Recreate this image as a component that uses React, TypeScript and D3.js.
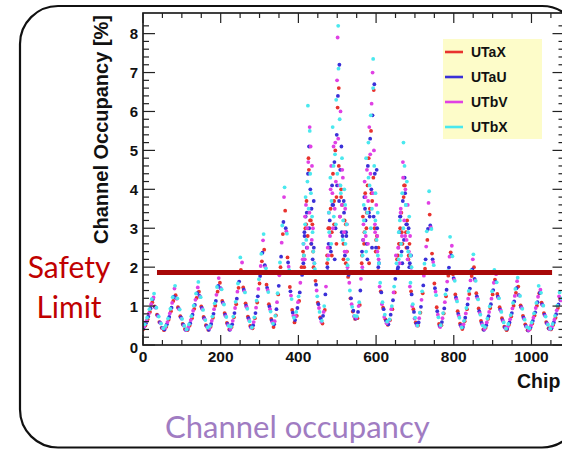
import { useEffect, useRef } from "react"
import * as d3 from "d3"

// occupancy [%], one value every 6 chips per layer;
// each layer is read at its own chip offset (see chipShift)
const utaX = [
  0.40, 0.50, 0.66, 0.85, 1.10, 0.99, 0.78, 0.59, 0.44, 0.38,
  0.47, 0.65, 0.87, 1.13, 1.28, 0.97, 0.74, 0.54, 0.41, 0.38,
  0.50, 0.69, 0.93, 1.21, 1.37, 0.99, 0.72, 0.51, 0.39, 0.47,
  0.70, 1.01, 1.37, 1.60, 1.13, 0.82, 0.57, 0.40, 0.46, 0.71,
  1.05, 1.47, 1.93, 1.48, 1.07, 0.73, 0.49, 0.43, 0.69, 1.09,
  1.58, 2.15, 2.45, 1.55, 1.05, 0.67, 0.46, 0.76, 1.30, 2.00,
  2.85, 3.45, 2.25, 1.49, 0.90, 0.58, 0.75, 1.13, 2.00, 2.30,
  3.10, 4.80, 3.20, 2.40, 1.65, 1.09, 0.71, 0.55, 0.90, 2.10,
  3.00, 2.30, 3.70, 2.60, 6.60, 3.80, 2.20, 3.10, 1.75, 1.20,
  0.86, 0.67, 0.69, 1.03, 2.30, 2.90, 3.40, 2.10, 3.90, 6.55,
  2.70, 2.50, 1.38, 0.96, 0.66, 0.52, 0.64, 0.92, 1.35, 2.20,
  2.60, 2.90, 4.10, 2.50, 2.30, 1.38, 0.92, 0.58, 0.50, 0.83,
  1.33, 1.96, 2.70, 3.35, 2.35, 1.58, 0.97, 0.54, 0.51, 0.81,
  1.25, 1.78, 2.38, 1.82, 1.30, 0.87, 0.55, 0.41, 0.61, 0.92,
  1.31, 1.77, 2.00, 1.33, 0.94, 0.62, 0.40, 0.44, 0.67, 0.95,
  1.30, 1.68, 1.31, 0.97, 0.69, 0.47, 0.38, 0.52, 0.73, 1.01,
  1.34, 1.50, 1.02, 0.75, 0.53, 0.38, 0.41, 0.55, 0.76, 1.01,
  1.33, 1.09, 0.82, 0.59, 0.43, 0.40, 0.52, 0.70, 0.95, 1.17,
]

const utaU = [
  0.44, 0.56, 0.73, 0.94, 1.18, 0.97, 0.76, 0.58, 0.44, 0.40,
  0.53, 0.72, 0.96, 1.24, 1.20, 0.94, 0.71, 0.52, 0.39, 0.41,
  0.56, 0.78, 1.03, 1.33, 1.26, 0.95, 0.69, 0.49, 0.39, 0.54,
  0.80, 1.13, 1.52, 1.46, 1.09, 0.78, 0.54, 0.39, 0.53, 0.82,
  1.19, 1.63, 1.88, 1.42, 1.01, 0.69, 0.46, 0.51, 0.82, 1.25,
  1.77, 2.37, 2.05, 1.47, 0.99, 0.63, 0.53, 0.92, 1.52, 2.27,
  3.16, 3.00, 2.12, 1.38, 0.83, 0.64, 0.95, 1.35, 1.80, 2.90,
  3.40, 5.10, 2.60, 3.70, 1.55, 1.05, 0.68, 0.75, 1.30, 1.90,
  2.50, 3.60, 2.20, 4.10, 7.20, 2.90, 3.40, 2.80, 1.80, 1.20,
  0.88, 0.68, 0.85, 1.40, 1.90, 3.50, 2.20, 3.30, 2.50, 6.70,
  4.50, 2.10, 1.35, 0.92, 0.62, 0.53, 0.78, 1.15, 1.70, 1.95,
  3.30, 2.10, 4.30, 3.10, 2.00, 1.30, 0.85, 0.55, 0.58, 0.98,
  1.53, 2.20, 2.98, 3.07, 2.20, 1.46, 0.87, 0.49, 0.59, 0.94,
  1.42, 1.99, 2.30, 1.72, 1.22, 0.80, 0.51, 0.46, 0.70, 1.04,
  1.45, 1.94, 1.70, 1.25, 0.87, 0.57, 0.39, 0.51, 0.74, 1.05,
  1.41, 1.62, 1.24, 0.91, 0.64, 0.45, 0.42, 0.58, 0.82, 1.12,
  1.46, 1.28, 0.97, 0.70, 0.49, 0.37, 0.45, 0.62, 0.84, 1.10,
  1.34, 1.04, 0.78, 0.56, 0.42, 0.43, 0.58, 0.79, 1.04, 1.15,
]

const utbV = [
  0.48, 0.62, 0.81, 1.05, 1.22, 0.96, 0.74, 0.56, 0.43, 0.44,
  0.59, 0.81, 1.08, 1.45, 1.19, 0.92, 0.68, 0.50, 0.39, 0.46,
  0.64, 0.88, 1.16, 1.48, 1.24, 0.92, 0.66, 0.46, 0.43, 0.62,
  0.92, 1.29, 1.72, 1.44, 1.06, 0.74, 0.51, 0.41, 0.62, 0.95,
  1.37, 1.86, 2.12, 1.38, 0.97, 0.64, 0.44, 0.59, 0.96, 1.44,
  2.03, 2.69, 2.00, 1.41, 0.92, 0.58, 0.61, 1.10, 1.79, 2.63,
  3.80, 2.92, 2.01, 1.27, 0.75, 0.74, 1.10, 1.60, 2.20, 3.30,
  2.50, 5.60, 4.60, 2.10, 1.40, 0.95, 0.60, 0.85, 1.50, 2.30,
  4.00, 3.00, 5.20, 7.90, 3.30, 4.50, 2.40, 3.10, 1.60, 1.05,
  0.74, 0.70, 1.00, 1.70, 2.70, 3.80, 2.60, 4.90, 7.00, 3.10,
  2.80, 1.50, 1.05, 0.72, 0.56, 0.62, 0.92, 1.35, 2.30, 2.50,
  3.40, 4.70, 2.80, 2.20, 1.50, 1.00, 0.68, 0.50, 0.69, 1.16,
  1.78, 2.53, 3.65, 3.02, 2.13, 1.37, 0.78, 0.46, 0.69, 1.10,
  1.63, 2.27, 2.55, 1.68, 1.17, 0.75, 0.47, 0.53, 0.81, 1.19,
  1.66, 2.20, 1.66, 1.20, 0.82, 0.53, 0.41, 0.58, 0.85, 1.19,
  1.60, 1.82, 1.21, 0.88, 0.61, 0.43, 0.47, 0.66, 0.94, 1.26,
  1.64, 1.27, 0.95, 0.67, 0.47, 0.38, 0.51, 0.70, 0.95, 1.24,
  1.42, 1.02, 0.75, 0.54, 0.41, 0.48, 0.65, 0.89, 1.25, 1.15,
]

const utbX = [
  0.53, 0.70, 0.92, 1.18, 1.32, 0.96, 0.73, 0.55, 0.43, 0.49,
  0.68, 0.93, 1.23, 1.52, 1.20, 0.91, 0.67, 0.49, 0.40, 0.53,
  0.74, 1.01, 1.32, 1.62, 1.23, 0.90, 0.64, 0.45, 0.49, 0.73,
  1.07, 1.49, 1.88, 1.43, 1.04, 0.72, 0.49, 0.47, 0.73, 1.11,
  1.58, 2.25, 1.86, 1.35, 0.93, 0.61, 0.45, 0.71, 1.14, 1.69,
  2.34, 2.85, 1.97, 1.36, 0.86, 0.55, 0.75, 1.33, 2.12, 3.07,
  4.05, 2.86, 1.92, 1.18, 0.70, 0.85, 1.25, 1.85, 2.60, 3.80,
  6.15, 4.40, 2.90, 1.95, 1.25, 0.85, 0.62, 1.00, 1.85, 3.40,
  2.60, 4.60, 3.10, 8.20, 4.10, 2.70, 3.60, 2.05, 1.40, 0.98,
  0.75, 0.74, 1.10, 1.90, 3.20, 2.40, 4.30, 3.00, 7.35, 3.90,
  2.30, 1.60, 1.10, 0.78, 0.60, 0.66, 1.00, 1.50, 2.10, 2.90,
  2.30, 5.20, 3.60, 2.40, 1.60, 1.05, 0.70, 0.50, 0.83, 1.38,
  2.09, 2.92, 3.95, 2.98, 2.05, 1.28, 0.71, 0.51, 0.82, 1.30,
  1.90, 2.78, 2.28, 1.65, 1.12, 0.70, 0.45, 0.62, 0.95, 1.39,
  1.91, 2.33, 1.65, 1.17, 0.78, 0.50, 0.46, 0.68, 0.99, 1.38,
  1.93, 1.61, 1.20, 0.85, 0.58, 0.42, 0.54, 0.77, 1.08, 1.44,
  1.73, 1.26, 0.93, 0.65, 0.46, 0.43, 0.58, 0.81, 1.08, 1.52,
  1.34, 1.01, 0.73, 0.52, 0.42, 0.54, 0.75, 1.01, 1.35, 1.20,
]

// extra readings in the four hottest chip groups near the beam pipe
const coreChips = [
  412, 415, 418, 421, 424, 427, 430, 433, 436, 439,
  474, 477, 480, 483, 486, 489, 492, 495, 498, 501, 504, 507, 510, 513, 516, 519, 522, 525,
  563, 566, 569, 572, 575, 578, 581, 584, 587, 590, 593, 596, 599, 602, 605,
  656, 659, 662, 665, 668, 671, 674, 677, 680, 683, 686, 689,
]
const utaXCore = [
  2.4, 2.0, 3.0, 3.7, 2.8, 4.5, 3.2, 2.6, 3.1, 2.0,
  2.3, 3.0, 2.5, 3.5, 2.9, 4.4, 3.1, 5.0, 3.8, 6.1, 4.6, 3.3, 4.0, 3.6, 2.6, 3.2, 2.1, 2.4,
  2.1, 3.3, 2.6, 3.9, 3.0, 4.1, 4.8, 3.5, 5.5, 3.7, 4.3, 3.0, 2.4, 2.8, 1.9,
  2.3, 2.6, 3.0, 3.4, 2.6, 3.8, 4.1, 2.9, 3.2, 2.2, 2.6, 2.0,
]
const utaUCore = [
  2.1, 2.8, 3.3, 2.5, 4.4, 3.0, 4.0, 3.5, 2.2, 2.5,
  2.0, 2.6, 3.2, 2.4, 4.1, 3.6, 4.7, 3.0, 5.4, 6.4, 3.7, 4.5, 5.1, 2.8, 3.7, 2.3, 2.9, 1.9,
  2.4, 2.7, 3.8, 3.2, 2.6, 4.6, 3.4, 5.3, 4.0, 5.9, 3.3, 4.4, 2.5, 3.0, 2.0,
  2.0, 2.9, 3.3, 2.4, 3.7, 2.7, 3.9, 3.1, 2.5, 3.0, 2.1, 2.3,
]
const utbVCore = [
  2.6, 2.2, 3.6, 3.0, 4.7, 3.4, 5.1, 2.7, 3.0, 1.9,
  2.5, 3.4, 2.8, 4.6, 3.9, 5.1, 3.5, 4.2, 6.8, 5.3, 4.1, 6.0, 3.6, 4.3, 2.9, 3.5, 2.4, 2.0,
  2.0, 3.1, 4.2, 2.8, 4.5, 3.7, 5.6, 4.4, 6.2, 3.9, 5.0, 2.9, 3.6, 2.4, 2.2,
  2.5, 2.1, 3.5, 2.8, 4.3, 3.2, 4.0, 2.7, 3.6, 2.4, 2.8, 1.9,
]
const utbXCore = [
  2.3, 3.1, 2.7, 4.2, 3.5, 5.5, 3.9, 3.3, 2.4, 2.1,
  2.2, 2.9, 4.3, 3.7, 5.6, 3.3, 4.9, 6.3, 4.4, 7.1, 5.8, 3.9, 4.8, 3.2, 4.0, 2.6, 3.1, 2.2,
  2.3, 3.6, 2.9, 4.8, 3.4, 5.2, 4.1, 5.9, 3.5, 6.6, 4.6, 3.2, 2.7, 3.4, 2.1,
  2.2, 3.2, 2.6, 3.9, 3.0, 4.6, 3.6, 4.2, 2.9, 3.3, 2.3, 2.0,
]

const seriesNames = ["UTaX", "UTaU", "UTbV", "UTbX"]
const seriesValues = [utaX, utaU, utbV, utbX]
const seriesCore = [utaXCore, utaUCore, utbVCore, utbXCore]
const chipShift = [0, 1.5, 3, 4.5]
const chipIds = d3.range(0, 1080, 6)

const xTicks = [0, 200, 400, 600, 800, 1000]
const yTicks = [0, 1, 2, 3, 4, 5, 6, 7, 8]

const safetyLimit = 1.86
const safetyChips = [36, 1053]

const colors = ["#e8322e", "#3a30d8", "#e040e4", "#4ae8ee"]
const axisFont = "'Liberation Sans', Arial, Helvetica, sans-serif"
const slideFont = "Lato, 'Open Sans', sans-serif"

export default function App() {
  const svgRef = useRef<SVGSVGElement>(null)

  useEffect(() => {
    if (!svgRef.current) return
    const svg = d3.select(svgRef.current)
    svg.selectAll("*").remove()

    const left = 143
    const right = 564.5
    const top = 13
    const bottom = 345

    const x = d3.scaleLinear().domain([0, 1085]).range([left, right])
    const y = d3.scaleLinear().domain([0, 8.53]).range([bottom, top])

    const defs = svg.append("defs")
    defs
      .append("clipPath")
      .attr("id", "plot-clip")
      .append("rect")
      .attr("x", left)
      .attr("y", top)
      .attr("width", right - left)
      .attr("height", bottom - top)
    defs
      .append("filter")
      .attr("id", "soft")
      .append("feGaussianBlur")
      .attr("stdDeviation", 1.6)

    // slide frame
    svg
      .append("rect")
      .attr("x", 20)
      .attr("y", 6)
      .attr("width", 560)
      .attr("height", 441.5)
      .attr("rx", 38)
      .attr("fill", "white")
      .attr("stroke", "#111")
      .attr("stroke-width", 2.2)

    // points, layer by layer (UTbX ends up on top)
    const pts = svg.append("g").attr("clip-path", "url(#plot-clip)")
    seriesValues.forEach((vals, s) => {
      pts
        .selectAll(`.dot-${s}`)
        .data(vals)
        .enter()
        .append("circle")
        .attr("class", `dot-${s}`)
        .attr("cx", (_d, i) => x(chipIds[i] + chipShift[s]))
        .attr("cy", (d) => y(d))
        .attr("r", 1.9)
        .attr("fill", colors[s])

      pts
        .selectAll(`.core-${s}`)
        .data(seriesCore[s])
        .enter()
        .append("circle")
        .attr("class", `core-${s}`)
        .attr("cx", (_d, i) => x(coreChips[i] + chipShift[s] / 2))
        .attr("cy", (d) => y(d))
        .attr("r", 1.9)
        .attr("fill", colors[s])
    })

    // plot frame
    svg
      .append("rect")
      .attr("x", left)
      .attr("y", top)
      .attr("width", right - left)
      .attr("height", bottom - top)
      .attr("fill", "none")
      .attr("stroke", "#111")
      .attr("stroke-width", 1.6)

    const ticks = svg.append("g").attr("stroke", "#222").attr("stroke-width", 1.2)

    // y ticks (left and right), minor every 0.2
    d3.range(0, 42).forEach((k) => {
      const v = k * 0.2
      const len = k % 5 === 0 ? 12 : 6
      ticks.append("line").attr("x1", left).attr("x2", left + len).attr("y1", y(v)).attr("y2", y(v))
      ticks.append("line").attr("x1", right).attr("x2", right - len).attr("y1", y(v)).attr("y2", y(v))
    })

    // x ticks (bottom and top), minor every 50
    d3.range(0, 22).forEach((k) => {
      const v = k * 50
      const len = k % 4 === 0 ? 10 : 5
      ticks.append("line").attr("x1", x(v)).attr("x2", x(v)).attr("y1", bottom).attr("y2", bottom - len)
      ticks.append("line").attr("x1", x(v)).attr("x2", x(v)).attr("y1", top).attr("y2", top + len)
    })

    // tick labels
    svg
      .append("g")
      .selectAll("text")
      .data(yTicks)
      .enter()
      .append("text")
      .attr("x", 138)
      .attr("y", (d) => y(d) + 5.5 + (d === 0 ? 2 : 0))
      .attr("text-anchor", "end")
      .attr("font-family", axisFont)
      .attr("font-weight", "bold")
      .attr("font-size", 15)
      .attr("fill", "#111")
      .text((d) => d)

    svg
      .append("g")
      .selectAll("text")
      .data(xTicks)
      .enter()
      .append("text")
      .attr("x", (d) => x(d))
      .attr("y", 362)
      .attr("text-anchor", "middle")
      .attr("font-family", axisFont)
      .attr("font-weight", "bold")
      .attr("font-size", 15.5)
      .attr("fill", "#111")
      .text((d) => d)

    // axis titles
    svg
      .append("text")
      .attr("transform", "translate(108,15) rotate(-90)")
      .attr("text-anchor", "end")
      .attr("font-family", axisFont)
      .attr("font-weight", "bold")
      .attr("font-size", 20)
      .attr("fill", "#111")
      .text("Channel Occupancy [%]")

    svg
      .append("text")
      .attr("x", 517)
      .attr("y", 388)
      .attr("font-family", axisFont)
      .attr("font-weight", "bold")
      .attr("font-size", 19.5)
      .attr("fill", "#111")
      .text("Chip")

    // legend
    const legend = svg.append("g")
    legend
      .append("rect")
      .attr("x", 443)
      .attr("y", 39)
      .attr("width", 99)
      .attr("height", 100)
      .attr("fill", "#fdfcc9")
    seriesNames.forEach((name, s) => {
      const ly = 52 + s * 25
      legend
        .append("line")
        .attr("x1", 445)
        .attr("x2", 463)
        .attr("y1", ly)
        .attr("y2", ly)
        .attr("stroke", colors[s])
        .attr("stroke-width", 2.6)
      legend
        .append("text")
        .attr("x", 471)
        .attr("y", ly + 5)
        .attr("font-family", axisFont)
        .attr("font-weight", "bold")
        .attr("font-size", 14)
        .attr("fill", "#111")
        .text(name)
    })

    // safety limit line with soft shadow
    svg
      .append("line")
      .attr("x1", x(safetyChips[0]))
      .attr("x2", x(safetyChips[1]))
      .attr("y1", y(safetyLimit) + 4)
      .attr("y2", y(safetyLimit) + 4)
      .attr("stroke", "#888")
      .attr("stroke-opacity", 0.45)
      .attr("stroke-width", 5)
      .attr("filter", "url(#soft)")
    svg
      .append("line")
      .attr("x1", x(safetyChips[0]))
      .attr("x2", x(safetyChips[1]))
      .attr("y1", y(safetyLimit))
      .attr("y2", y(safetyLimit))
      .attr("stroke", "#a80808")
      .attr("stroke-width", 5)

    // slide annotations
    const note = svg
      .append("g")
      .attr("font-family", slideFont)
      .attr("fill", "#c00000")
      .attr("font-size", 30)
      .attr("text-anchor", "middle")
    note.append("text").attr("x", 69).attr("y", 278).text("Safety")
    note.append("text").attr("x", 69).attr("y", 318).text("Limit")

    svg
      .append("text")
      .attr("x", 165)
      .attr("y", 438)
      .attr("font-family", slideFont)
      .attr("font-size", 31)
      .attr("fill", "#a07cc2")
      .text("Channel occupancy")
  }, [])

  return (
    <svg
      ref={svgRef}
      width={562}
      height={450}
      style={{ position: "absolute", left: 0, top: 0, background: "white" }}
    />
  )
}
